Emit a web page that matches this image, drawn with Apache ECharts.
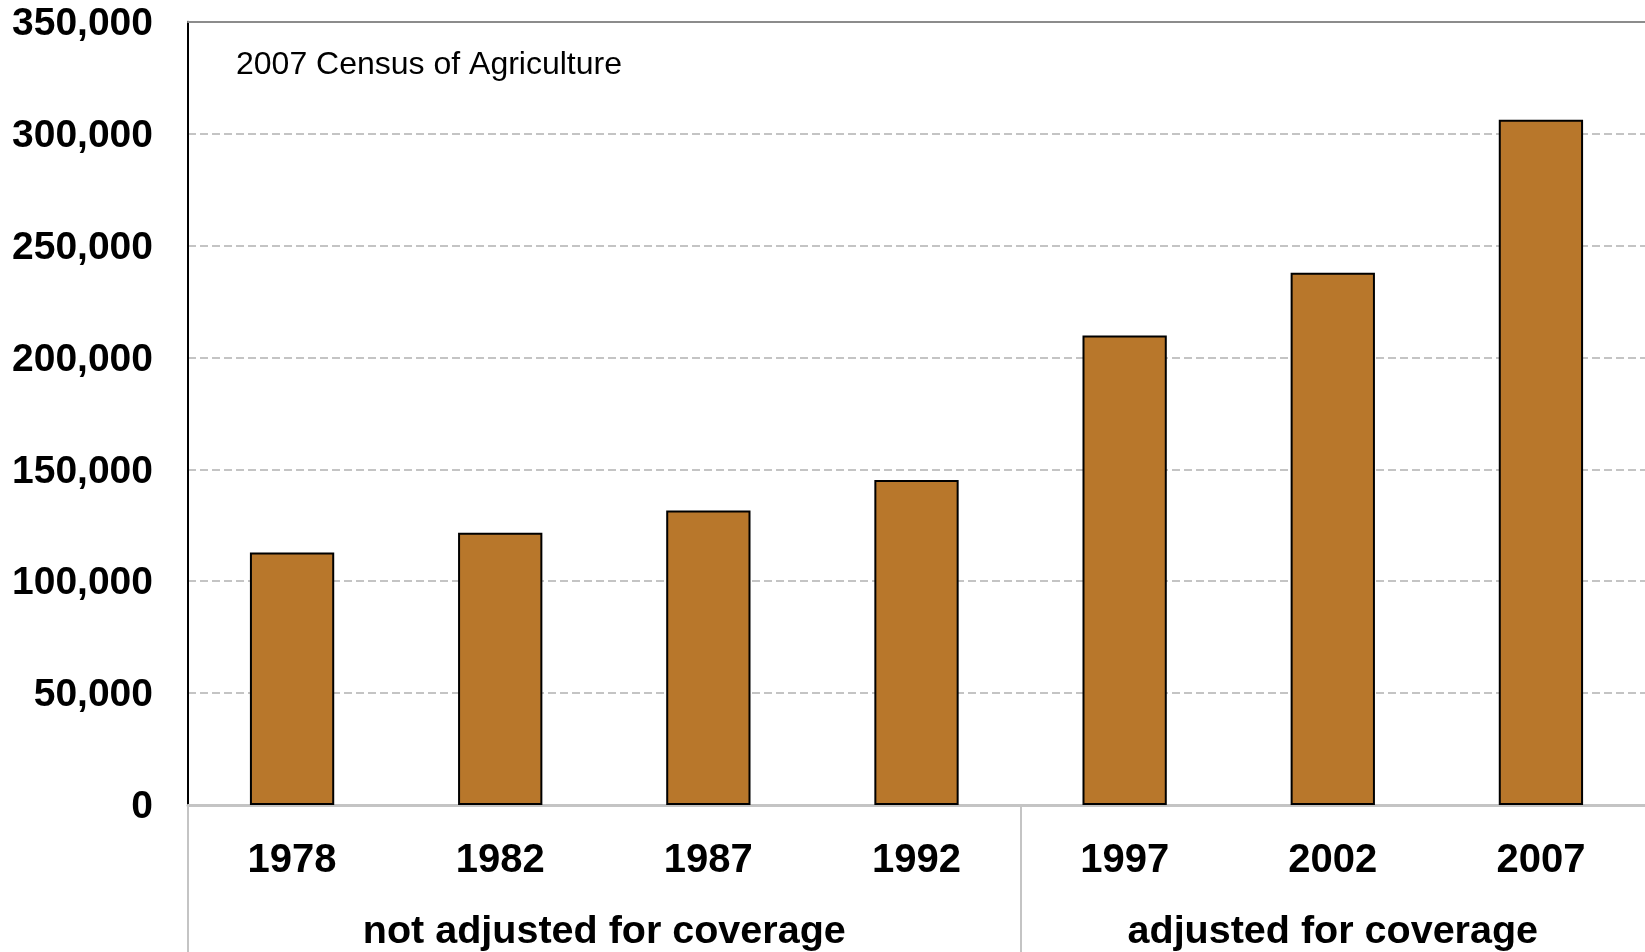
<!DOCTYPE html>
<html>
<head>
<meta charset="utf-8">
<script src="https://cdn.jsdelivr.net/npm/echarts@6/dist/echarts.min.js"></script>
<style>
html,body{margin:0;padding:0;background:#fff;}
#chart{width:1645px;height:952px;}
</style>
</head>
<body>
<div id="chart"></div>
<script>
var years = ['1978', '1982', '1987', '1992', '1997', '2002', '2007'];
var farms = [112800, 121600, 131600, 145200, 209800, 237800, 306200];
var groupLabels = ['not adjusted for coverage', 'adjusted for coverage'];
var groupCenters = [2, 5.5];
var groupBounds = [0, 4];
var yTicks = [0, 50000, 100000, 150000, 200000, 250000, 300000, 350000];
var titleText = '2007 Census of Agriculture';

var font = '"Liberation Sans", Arial, sans-serif';
var chart = echarts.init(document.getElementById('chart'));
chart.setOption({
  animation: false,
  title: {
    text: titleText,
    left: 236, top: 49, padding: 0,
    textStyle: { fontFamily: font, fontSize: 32, fontWeight: 'normal', color: '#000' }
  },
  grid: { left: 188, right: -1, top: 21.7, bottom: 146.5, containLabel: false },
  xAxis: [
    {
      type: 'category', data: years, position: 'bottom',
      axisLine: { show: true, lineStyle: { color: '#c4c4c4', width: 3 } },
      axisTick: { show: false },
      axisLabel: { fontFamily: font, fontSize: 40, fontWeight: 'bold', color: '#000', margin: 36 },
      splitLine: { show: false }
    },
    {
      type: 'value', min: 0, max: years.length, position: 'bottom',
      axisLine: { show: false },
      axisTick: { show: true, customValues: groupBounds, length: 147, inside: false,
        lineStyle: { color: '#c4c4c4', width: 2 } },
      axisLabel: { show: true, customValues: groupCenters, fontFamily: font, fontSize: 39.5,
        fontWeight: 'bold', color: '#000', margin: 107,
        formatter: function (v) { var i = groupCenters.indexOf(v); return i >= 0 ? groupLabels[i] : ''; } },
      splitLine: { show: false }
    },
    {
      type: 'category', data: years, position: 'top',
      axisLine: { show: true, lineStyle: { color: '#8c8c8c', width: 2 } },
      axisTick: { show: false }, axisLabel: { show: false }, splitLine: { show: false }
    }
  ],
  yAxis: {
    type: 'value', min: yTicks[0], max: yTicks[yTicks.length - 1], interval: yTicks[1] - yTicks[0],
    axisLine: { show: true, lineStyle: { color: '#000', width: 2 } },
    axisTick: { show: false },
    axisLabel: { color: '#000', margin: 35,
      formatter: function (v) { return '{a|' + v.toLocaleString('en-US') + '}'; },
      rich: { a: { fontFamily: font, fontSize: 39, fontWeight: 'bold', color: '#000', padding: [5, 0, 0, 0] } } },
    splitLine: { show: true, lineStyle: { color: '#c4c4c4', width: 2, type: [8, 4] } }
  },
  series: [{
    type: 'bar', data: farms, xAxisIndex: 0, barWidth: '40.5%',
    itemStyle: { color: '#b8772b', borderColor: '#000', borderWidth: 2 }
  }]
});
</script>
</body>
</html>
